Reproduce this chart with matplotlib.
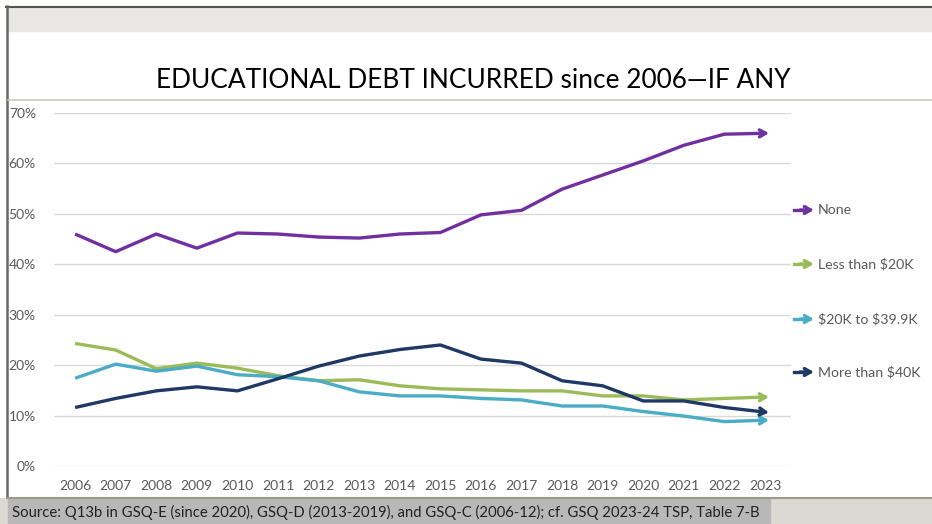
import matplotlib.pyplot as plt
from matplotlib.patches import Rectangle
from matplotlib.ticker import PercentFormatter

plt.rcParams['font.family'] = ['Lato', 'DejaVu Sans']
plt.rcParams['text.parse_math'] = False

# data (share of respondents, %)
years = list(range(2006, 2024))
none = [46.0, 42.5, 46.0, 43.2, 46.2, 46.0, 45.4, 45.2, 46.0, 46.3,
        49.8, 50.7, 54.9, 57.7, 60.5, 63.6, 65.8, 66.0]
less_20k = [24.3, 23.0, 19.3, 20.4, 19.4, 17.9, 16.9, 17.1, 15.9, 15.3,
            15.1, 14.9, 14.9, 13.9, 13.9, 13.1, 13.4, 13.7]
k20_39 = [17.4, 20.2, 18.8, 19.8, 18.1, 17.7, 16.9, 14.7, 13.9, 13.9,
          13.4, 13.1, 11.9, 11.9, 10.8, 9.9, 8.8, 9.1]
more_40k = [11.6, 13.4, 14.9, 15.7, 14.9, 17.3, 19.8, 21.8, 23.1, 24.0,
            21.2, 20.4, 16.9, 15.9, 12.9, 12.9, 11.6, 10.6]

series = [
    ("None", none, "#7030A0"),
    ("Less than $20K", less_20k, "#9BBB59"),
    ("$20K to $39.9K", k20_39, "#4BACC6"),
    ("More than $40K", more_40k, "#1F3864"),
]
label_y = [210, 264, 319, 372]   # legend rows, pixels from top

W, H = 932, 524
fig = plt.figure(figsize=(W / 100, H / 100), dpi=100)
fig.patch.set_facecolor("white")

def fx(px):
    return px / W

def fy(py):
    return 1 - py / H

# slide decoration
fig.patches.append(Rectangle((fx(7), fy(31)), 1, fy(7) - fy(31), transform=fig.transFigure,
                             color="#e9e7e5", zorder=0))
fig.patches.append(Rectangle((0, 0), 1, fy(498), transform=fig.transFigure,
                             color="#dadad2", zorder=0))
fig.patches.append(Rectangle((fx(8), 0), fx(770) - fx(8), fy(499), transform=fig.transFigure,
                             color="#b8b8b8", zorder=1))
fig.add_artist(plt.Line2D([fx(6), 1], [fy(6.5), fy(6.5)], color="#555555", lw=1.5))
fig.add_artist(plt.Line2D([fx(7), fx(7)], [fy(497), fy(6)], color="#666666", lw=1.8))
fig.add_artist(plt.Line2D([fx(8), 1], [fy(99.5), fy(99.5)], color="#c9cabf", lw=1.2))
fig.add_artist(plt.Line2D([fx(8), 1], [fy(497.5), fy(497.5)], color="#9a9c88", lw=1.5))

fig.text(fx(473), fy(81), "EDUCATIONAL DEBT INCURRED since 2006\u2014IF ANY",
         ha="center", va="center", fontsize=18.9, color="black")
fig.text(fx(12), fy(512), "Source: Q13b in GSQ-E (since 2020), GSQ-D (2013-2019), and GSQ-C (2006-12); "
         "cf. GSQ 2023-24 TSP, Table 7-B", ha="left", va="center", fontsize=10.7, color="#222222")

ax = fig.add_axes([fx(54), fy(466), fx(791) - fx(54), fy(113) - fy(466)])
ax.set_xlim(2005.48, 2023.64)
ax.set_ylim(0, 70)
ax.set_yticks(range(0, 71, 10))
ax.set_xticks(years)
ax.yaxis.set_major_formatter(PercentFormatter(decimals=0))
ax.grid(axis="y", color="#d9d9d9", lw=1)
ax.set_axisbelow(True)
for s in ax.spines.values():
    s.set_visible(False)
ax.tick_params(length=0, labelsize=10, labelcolor="#595959")
ax.tick_params(axis="y", pad=13)
ax.tick_params(axis="x", pad=10)

for (name, vals, col), ly in zip(series, label_y):
    ax.plot(years[:-1], vals[:-1], color=col, lw=2.4, solid_capstyle="butt",
            solid_joinstyle="round")
    ax.annotate("", xy=(years[-1] + 0.1, vals[-1]), xytext=(years[-2], vals[-2]),
                arrowprops=dict(arrowstyle="->,head_length=0.45,head_width=0.25",
                                color=col, lw=2.4, shrinkA=0, shrinkB=0))
    fig.add_artist(plt.Line2D([fx(794), fx(806)], [fy(ly), fy(ly)], color=col, lw=2.4))
    ax.annotate("", xy=(fx(814), fy(ly)), xytext=(fx(800), fy(ly)), xycoords="figure fraction",
                textcoords="figure fraction",
                arrowprops=dict(arrowstyle="->,head_length=0.45,head_width=0.25",
                                color=col, lw=2.4, shrinkA=0, shrinkB=0), annotation_clip=False)
    fig.text(fx(818), fy(ly), name, ha="left", va="center", fontsize=10.2, color="#595959")

fig.savefig("out.png", dpi=100)
